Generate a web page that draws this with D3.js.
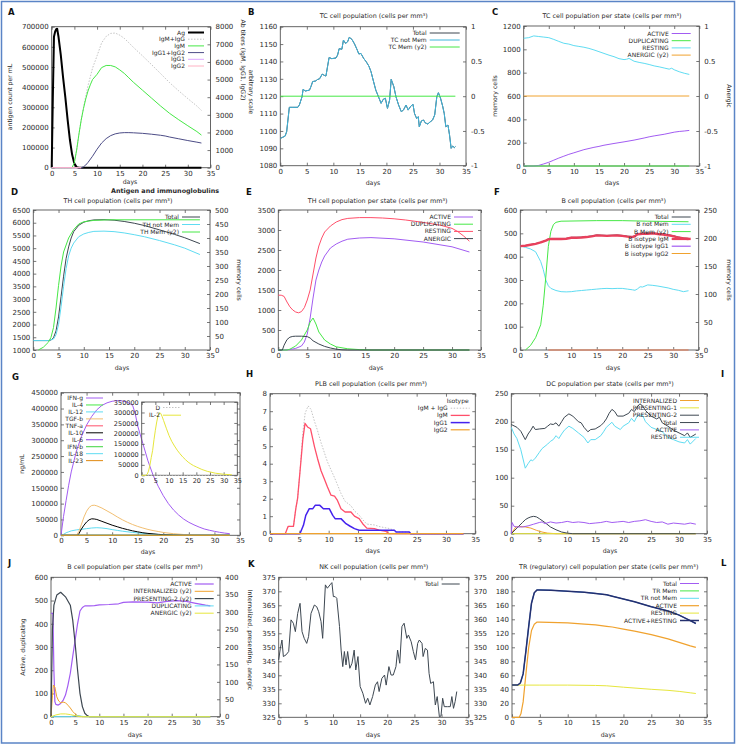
<!DOCTYPE html>
<html><head><meta charset="utf-8">
<script src="https://cdn.jsdelivr.net/npm/d3@7"></script>
<style>body{margin:0;background:#fff} svg{display:block} text{font-family:"DejaVu Sans",sans-serif}</style>
</head><body><svg id="c" width="738" height="747"></svg>
<script>
// ---------------- DATA ----------------
const xTicks = [0,5,10,15,20,25,30,35];
// A: Antigen and immunoglobulins
const A_Ag = [[0,0],[0.25,350000],[0.5,650000],[0.75,675000],[1,688000],[1.2,690000],[1.5,650000],[2,560000],[2.5,450000],[3,350000],[3.5,240000],[4,140000],[4.5,65000],[5,20000],[5.5,3000],[6,0],[33,0]];
const A_IgMIgG = [[0,0],[4.5,0],[5,300],[5.5,1000],[6,1900],[6.5,2700],[7,3400],[7.5,4050],[8,4650],[8.5,5150],[9,5650],[10,6350],[11,7080],[12,7450],[13,7620],[14,7640],[15,7520],[16,7340],[17,7090],[18,6830],[20,6350],[22,5850],[24,5340],[26,4820],[28,4360],[30,3920],[32,3500],[33,3250]];
const A_IgM = [[0,0],[4.5,0],[5,300],[5.5,1000],[6,1900],[6.5,2700],[7,3350],[7.5,3900],[8,4350],[8.5,4700],[9,5000],[10,5300],[11,5680],[12,5800],[13,5800],[14,5720],[15,5550],[16,5350],[17,5100],[18,4850],[20,4400],[22,3950],[24,3500],[26,3080],[28,2720],[30,2380],[32,2050],[33,1850]];
const A_IgG12 = [[0,0],[6.5,0],[7,50],[7.5,150],[8,300],[9,650],[10,1050],[11,1400],[12,1650],[13,1820],[14,1920],[15,1970],[16,1990],[17,1990],[18,1980],[20,1950],[22,1900],[24,1840],[25,1800],[26,1740],[28,1640],[30,1540],[32,1450],[33,1400]];
const A_IgG1 = [[0,0],[6.5,0]];
const A_IgG2 = [[0,0],[6.5,0]];
// B: TC cell population
const B_total = [[0,1095.7],[0.4,1096.3],[0.9,1097],[1.2,1099.6],[1.5,1108],[1.7,1113.6],[2.3,1113.6],[3.3,1113.6],[3.6,1115],[4.1,1119.7],[4.3,1124],[4.7,1123],[5.5,1123.5],[5.8,1125.7],[6.1,1128.4],[6.7,1128.8],[7.0,1129.6],[7.4,1130],[7.9,1132.7],[8.3,1132],[8.6,1131.6],[8.9,1137],[9.2,1142.3],[9.7,1141.6],[10.5,1142],[10.8,1143.7],[11.1,1147.4],[11.6,1147],[11.9,1152.3],[12.3,1150.4],[12.7,1151.4],[13.0,1153.9],[13.5,1152.7],[14.0,1150],[14.5,1146.6],[14.8,1144.3],[15.2,1144.6],[15.7,1141.8],[16.2,1139.8],[16.7,1137.3],[17.1,1134.1],[17.5,1129.3],[18.0,1123.5],[18.5,1119.7],[19.0,1115.9],[19.4,1118.2],[19.8,1118.8],[20.2,1113],[20.6,1117.8],[20.9,1129.7],[21.4,1125.5],[21.8,1119.7],[22.3,1114.9],[22.8,1111.1],[23.2,1112],[23.7,1114.9],[24.1,1112],[24.5,1113.9],[25.0,1115.4],[25.3,1110],[25.7,1107.2],[26.0,1108.2],[26.2,1102.4],[26.6,1105.8],[27.0,1106.3],[27.3,1104.7],[27.8,1104],[28.2,1105.1],[28.7,1106.3],[29.1,1109.2],[29.5,1119.7],[29.8,1122],[30.2,1118.8],[30.6,1114.3],[30.9,1110],[31.2,1102.4],[31.6,1103.4],[31.9,1097.6],[32.2,1090],[32.5,1091.3],[32.8,1090.4],[33,1091]];
const B_notMem = B_total; // identical series (no memory cells)
const B_mem = [[0,0],[33,0]];
// C: TC cell population per state
const C_active = [[0,0],[2,0],[3,5],[4,18],[5,32],[6,50],[7,68],[8,84],[9,100],[10,113],[12,140],[14,160],[15,168],[16,178],[18,193],[20,207],[22,222],[24,240],[25,250],[26,258],[28,272],[30,290],[31,296],[32,300],[33,305]];
const C_dup = [[0,0],[33,0]];
const C_resting = [[0,1095],[1,1100],[2,1115],[3,1110],[4,1105],[5,1100],[6,1085],[7,1068],[8,1052],[9,1045],[10,1032],[11,1025],[12,1018],[13,1008],[14,995],[15,980],[16,965],[17,950],[18,937],[19,920],[20,912],[20.5,915],[21,922],[22,898],[23,888],[24,880],[25,870],[26,858],[27,850],[28,840],[29,830],[29.5,838],[30,825],[31,808],[32,795],[33,785]];
const C_anergic = [[0,0],[33,0]];
// D: TH cell population
const D_total = [[0,1370],[3,1370],[3.5,1390],[4,1480],[4.5,1750],[5,2300],[5.5,3100],[6,3900],[6.5,4600],[7,5050],[7.5,5400],[8,5650],[9,5900],[10,6020],[11,6080],[12,6110],[14,6120],[16,6100],[18,6050],[20,5980],[22,5890],[25,5720],[28,5540],[30,5410],[33,5180]];
const D_notMem = [[0,1370],[3,1370],[4,1430],[4.5,1600],[5,2000],[5.5,2700],[6,3500],[6.5,4200],[7,4700],[7.5,5000],[8,5200],[9,5450],[10,5560],[11,5620],[12,5660],[14,5670],[16,5650],[18,5600],[20,5530],[22,5450],[25,5300],[28,5130],[30,5000],[33,4750]];
const D_mem = [[1,0],[2,10],[3,28],[3.5,45],[4,80],[4.5,150],[5,230],[5.5,300],[6,350],[7,400],[8,430],[9,450],[10,458],[12,463],[15,465],[33,465]];
// E: TH cell population per state
const E_active = [[0,0],[1,0],[2,10],[3,40],[4,100],[4.5,200],[5,400],[5.5,800],[6,1300],[6.5,1750],[7,2000],[7.5,2200],[8,2350],[9,2550],[10,2650],[11,2720],[12,2770],[14,2800],[16,2810],[20,2780],[25,2700],[30,2580],[33,2450]];
const E_dup = [[0,0],[1.5,0],[2,20],[3,100],[4,250],[5,500],[5.5,700],[6,800],[6.5,650],[7,450],[7.5,350],[8,250],[9,150],[10,80],[12,30],[14,10],[16,0],[33,0]];
const E_resting = [[0,1370],[0.5,1370],[1,1340],[1.5,1200],[2,1080],[2.5,1000],[3,950],[3.5,930],[4,960],[4.5,1060],[5,1250],[5.5,1500],[6,1900],[6.5,2300],[7,2600],[7.5,2800],[8,2950],[9,3100],[10,3200],[11,3260],[12,3290],[14,3310],[16,3310],[18,3300],[20,3280],[22,3250],[25,3190],[28,3120],[30,3040],[31,2960],[32,2850],[33,2720]];
const E_anergic = [[0,0],[0.7,0],[1,120],[1.5,260],[2,320],[2.5,340],[3,345],[4,345],[5,335],[5.5,300],[6,230],[7,150],[8,90],[9,50],[10,20],[11,5],[12,0],[33,0]];
// F: B cell population
const F_total = [[0,445],[1,448],[2,452],[3,456],[4,462],[5,470],[5.5,476],[6,478],[7,478],[8,478],[9,478],[10,483],[11,483],[12,484],[13,486],[14,489],[15,493],[16,492],[17,491],[18,492],[19,493],[20,491],[21,488],[22,486],[22.5,490],[23,498],[24,500],[25,500],[26,502],[27,499],[28,497],[29,494],[30,490],[31,484],[32,480],[33,478]];
const F_notMem = [[0,446],[1,440],[2,433],[3,421],[4,379],[4.5,345],[5,300],[5.5,275],[6,264],[7,255],[8,250],[9,249],[10,250],[11,253],[12,255],[13,257],[14,259],[15,261],[16,263],[17,264],[18,263],[19,264],[20,264],[21,261],[22,258],[22.5,256],[23,262],[23.5,271],[24,270],[25,279],[26,277],[27,274],[28,270],[29,266],[30,260],[31,256],[32,250],[33,254]];
const F_mem = [[1,0],[2,8],[3,22],[4,45],[4.5,80],[5,130],[5.5,185],[6,212],[6.5,224],[7,228],[8,230],[15,231],[20,231],[25,230],[33,229]];
const F_IgM = [[0,445],[1,447],[2,451],[3,455],[4,461],[5,469],[5.5,474],[6,476],[7,476],[8,476],[9,477],[10,481],[11,481],[12,482],[13,484],[14,487],[15,491],[16,490],[17,489],[18,490],[19,491],[20,489],[21,486],[22,484],[22.5,488],[23,496],[24,498],[25,498],[26,500],[27,497],[28,495],[29,492],[30,488],[31,482],[32,478],[33,476]];
const F_IgG1 = [[5.5,0],[33,0]];
const F_IgG2 = [[5.5,0],[33,0]];
// G: cytokines
const G_IFNg = [[0,0],[0.5,60000],[1,110000],[1.5,158000],[2,200000],[3,265000],[4,312000],[5,348000],[6,375000],[7,396000],[8,410000],[9,418000],[10,423000],[11,425000],[12,424000],[13,420000],[14,410000],[14.5,385000],[15,345000],[16,290000],[17,235000],[18,190000],[19,155000],[20,125000],[21,100000],[22,80000],[23,64000],[24,51000],[25,41000],[26,33000],[27,26000],[28,20000],[29,16000],[30,12500],[31,9500],[32,7000],[33,5000]];
const G_IL4 = [[0,0],[33,0]];
const G_IL12 = [[0,0],[0.5,3000],[1,8000],[1.5,11000],[2,14000],[3,17000],[4,19000],[5,21000],[6,23000],[7,24000],[8,23000],[9,21000],[10,18000],[11,15500],[12,13000],[14,9000],[16,6000],[18,3500],[20,2000],[22,1000],[25,0],[33,0]];
const G_TGFb = [[0,0],[3,0],[3.5,12000],[4,35000],[4.5,58000],[5,76000],[5.5,88000],[6,94000],[6.5,95000],[7,93000],[8,86000],[9,77000],[10,68000],[11,58000],[12,49000],[13,41000],[14,34000],[15,28000],[16,23000],[17,18500],[18,15000],[19,12000],[20,9000],[22,5000],[24,2500],[26,1000],[28,300],[33,0]];
const G_TNFa = [[0,0],[33,0]];
const G_IL10 = [[0,0],[3.2,0],[3.5,5000],[4,20000],[4.5,32000],[5,42000],[5.5,49000],[6,52000],[6.5,51500],[7,50000],[8,44000],[9,38000],[10,32000],[11,27000],[12,22000],[13,18000],[14,14000],[15,11000],[16,8000],[17,6000],[18,4500],[19,3000],[20,2000],[22,800],[24,0],[33,0]];
const G_IL6 = [[0,0],[33,0]];
const G_IFNb = [[0,0],[33,0]];
const G_IL18 = [[0,0],[33,0]];
const G_IL23 = [[0,0],[33,0]];
const G_D = [[0,0],[33,0]];
const G_IL2 = [[0,0],[1.5,0],[2,5000],[2.5,20000],[3,48000],[3.5,85000],[4,119000],[4.5,170000],[5,215000],[5.5,255000],[6,285000],[6.5,299000],[7,295000],[7.5,280000],[8,262000],[9,225000],[10,190000],[11,162000],[12,140000],[13,120000],[14,103000],[15,88000],[16,75000],[17,63000],[18,54000],[19,46000],[20,40000],[22,28000],[24,19000],[25,16000],[27,10000],[30,5000],[33,2500]];
// H: PLB cell population
const H_sum = [[0,0],[2.6,0],[3.1,0.42],[4.0,0.42],[4.4,1.43],[4.7,2],[5.1,3.5],[5.6,5.8],[6.0,6.9],[6.5,7.3],[7.0,7.1],[7.6,6.4],[8.1,5.9],[8.7,5.2],[9.3,4.6],[9.8,4.1],[10.4,3.65],[11,3.2],[11.5,2.8],[12.1,2.3],[12.8,1.85],[13.8,1.6],[14.4,1.3],[15.2,1.06],[15.8,0.8],[16.5,0.55],[17.8,0.5],[18.6,0.41],[19.8,0.33],[20.3,0.3],[21.2,0.2],[21.5,0.1],[23.75,0.1],[24,0],[33,0]];
const H_IgM = [[0,0],[2.6,0],[3.1,0.42],[4.0,0.42],[4.4,1.43],[4.7,2],[5.1,3.5],[5.6,5.4],[5.97,6.3],[6.4,6.1],[6.9,6.0],[7.6,4.95],[8.1,4.3],[8.7,3.6],[9.3,3.1],[9.8,2.67],[10.4,2.2],[11,2.15],[11.5,1.9],[12.1,1.43],[12.8,1.24],[13.8,1.24],[14.4,1.0],[15.2,0.86],[15.8,0.57],[16.5,0.32],[17.8,0.29],[18.6,0.21],[19.8,0.13],[20.3,0],[33,0]];
const H_IgG1 = [[0,0],[5.1,0],[5.7,0.48],[6.1,1.05],[6.7,1.43],[7.3,1.43],[7.7,1.62],[8.5,1.62],[9.1,1.43],[10.1,1.43],[10.7,1.05],[11.1,0.86],[12.1,0.86],[12.95,0.57],[13.6,0.44],[14.4,0.29],[15.2,0.2],[21.2,0.2],[21.5,0.1],[23.75,0.1],[24,0],[33,0]];
const H_IgG2 = [[0,0],[33,0]];
// I: DC population per state
const I_internal = [[0,0],[0.8,12],[1.5,13],[2.5,12],[3.5,10],[4.5,6],[5.5,3],[6.5,1],[8,0],[33,0]];
const I_pres1 = [[0,0],[33,0]];
const I_pres2 = [[0,0],[1,10],[2,20],[2.5,25],[3,28],[3.5,30],[4,31],[4.5,30],[5,27],[6,20],[7,12],[8,7],[9,3],[10,1],[11,0],[33,0]];
const I_total = [[0,195],[1,190],[1.7,183],[2.5,168],[3,178],[3.5,185],[3.9,192],[4.3,186],[5,187],[6,188],[6.5,192],[7,196],[7.5,195],[8,198],[8.5,192],[9,200],[9.5,208],[10.3,214],[11,210],[12,200],[12.5,198],[13,190],[13.7,182],[14.2,186],[15,187],[16,193],[16.5,198],[17,205],[17.5,215],[18,222],[18.5,218],[19,210],[20,210],[21,215],[21.5,222],[22,218],[22.5,226],[23,232],[23.5,228],[24,220],[24.5,215],[25,210],[26,205],[26.5,208],[27,198],[28,192],[29,185],[30,180],[31,175],[31.5,180],[32,172],[33,178]];
const I_active = [[0,0],[0.15,20],[0.5,13],[1,12],[2,12],[3,14],[4,17],[5,20],[5.5,21],[6,18],[7,21],[8,19],[9,20],[10,22],[11,20],[12,21],[13,20],[14,18],[15,19],[16,20],[17,22],[18,20],[19,21],[20,22],[21,20],[22,22],[23,23],[24,25],[25,22],[26,20],[27,21],[28,17],[29,19],[30,18],[31,17],[32,19],[33,17]];
const I_resting = [[0,190],[0.5,178],[1,170],[1.7,150],[2.5,117],[3,125],[3.5,132],[3.8,130],[4.3,135],[5,145],[5.5,152],[6.5,160],[7,165],[7.5,168],[8,175],[8.5,170],[9,178],[9.5,185],[10.3,192],[11,188],[12,180],[13,172],[13.7,162],[14.2,168],[15,168],[16,175],[16.5,182],[17,190],[18,199],[18.5,192],[19.5,186],[20,192],[21,198],[21.5,206],[22,200],[22.5,210],[23,212],[23.5,211],[24,200],[25,190],[26,186],[27,182],[28,172],[29,168],[30,164],[31,162],[31.5,168],[32,160],[33,170]];
// J: B cell population per state
const J_active = [[0,445],[0.4,445],[0.6,200],[0.8,65],[1,53],[1.5,50],[2,57],[2.5,70],[3,93],[3.5,135],[4,187],[4.5,260],[5,330],[5.5,400],[6,455],[6.5,470],[7,477],[8,477],[9,478],[10,481],[12,483],[14,486],[15,492],[17,494],[20,493],[22,490],[24,496],[26,500],[28,496],[30,488],[32,480],[33,477]];
const J_internal = [[0,0],[0.3,60],[0.5,91],[0.8,85],[1.2,57],[1.6,45],[2,40],[2.5,42],[3,40],[3.5,33],[4,25],[4.5,15],[5,8],[5.5,3],[6.5,0],[33,0]];
const J_pres2 = [[0,0],[0.3,250],[0.6,320],[1.2,349],[2,357],[3,344],[4,320],[4.5,277],[5,210],[5.5,134],[6,67],[6.5,29],[7,10],[7.5,3],[8,0],[33,0]];
const J_dup = [[0,0],[4,0],[5,4],[6,3],[7,0],[33,0]];
const J_anergic = [[0,0],[1,5],[2,8],[3,8],[4,6],[5,3],[6,0],[33,0]];
// K: NK cell population
const K_total = [[0,345.5],[0.3,349.6],[0.6,352.6],[0.86,346.7],[1.35,347.3],[1.84,348.5],[2.27,359.8],[2.7,358.6],[3.07,355.6],[3.5,362.1],[3.93,365.7],[4.3,355.6],[4.7,353.2],[5.16,351.4],[5.5,353.8],[5.95,362.1],[6.57,365.1],[7.0,364.5],[7.37,362.7],[7.8,359.2],[8.1,353.2],[8.6,372.3],[8.96,371.1],[9.45,372.3],[9.8,373.1],[10.07,368.1],[10.4,368.1],[10.7,367.5],[11.2,357.4],[11.5,349],[11.8,343.1],[12.1,348.5],[12.4,343.7],[12.7,348.5],[13.1,342.5],[13.5,344.3],[13.9,349],[14.2,341.9],[14.6,346.7],[15.0,336],[15.5,333.6],[16.0,330],[16.4,331.8],[16.8,329.4],[17.3,332.4],[17.8,336.5],[18.2,337.7],[18.5,334.2],[19.0,338.9],[19.5,340.1],[19.8,336.5],[20.3,343.1],[20.7,340.1],[21.1,340.1],[21.6,343.1],[21.9,349],[22.3,344.3],[22.7,357.4],[23.1,358.6],[23.6,353.2],[23.9,354.4],[24.4,352],[24.8,348.5],[25.2,345.5],[25.6,351.4],[25.9,352.6],[26.4,351.4],[26.6,346.7],[27.0,349.6],[27.4,349],[27.7,340.7],[28.0,337.1],[28.5,337.7],[28.85,329.4],[29.2,332.4],[29.6,325.2],[29.9,325.5],[30.2,331.8],[30.5,328.8],[31.1,328.8],[31.6,328.8],[31.9,332.4],[32.2,328.2],[32.5,330.6],[32.8,334.2]];
// L: TR cell population per state
const L_activeResting = [[0,46],[1,46],[1.5,49],[2,62],[2.5,95],[3,130],[3.5,163],[4,178],[4.5,182],[5,182],[7,181.5],[10,180],[13,178.5],[15,177],[17,175],[18,173],[20,169],[22,165],[25,158],[28,152],[30,146],[32,138],[33,134]];
const L_total = L_activeResting; // identical series
const L_notMem = L_activeResting; // identical series
const L_active = [[0,0],[1.3,0],[1.6,5],[2,22],[2.5,62],[3,100],[3.5,124],[4,133],[4.5,136],[5,136],[10,135],[13,133],[15,132],[17,130],[18,129],[20,126],[22,123],[25,118],[28,112],[30,107],[32,102],[33,100]];
const L_resting = [[0,46],[5,46],[10,46],[15,45.5],[17,45],[20,43],[25,40],[28,38.5],[30,37],[32,35],[33,34]];

// ---------------- DRAWING ----------------
const PURPLE='#a25cf2', GREEN='#46e846', CYAN='#5fdcf2', ORANGE='#f0a22e', YELLOW='#e6e63c',
      DARK='#3d4751', RED='#ff4f6a', BLUE='#4422ee', LGRAY='#c4c4c4', TXT='#2a2a2a', BORDER='#555';
const svg = d3.select('#c');
svg.append('rect').attr('width',738).attr('height',747).attr('fill','#fff');
svg.append('rect').attr('x',1.5).attr('y',1.5).attr('width',733).attr('height',741.5)
   .attr('fill','none').attr('stroke','#5a84c6').attr('stroke-width',1.5);

const rng = (a,b,s) => d3.range(a, b + s/2, s);
const fmt = d => String(Math.round(d*1000)/1000);

function text(t, x, y, o={}) {
  const e = svg.append('text').attr('x',x).attr('y',y).text(t)
    .attr('font-size', o.fs || 6.2).attr('fill', o.fill || TXT)
    .attr('text-anchor', o.anchor || 'middle');
  if (o.bold) e.attr('font-weight','bold');
  if (o.rot) e.attr('transform',`rotate(${o.rot},${x},${y})`);
  return e;
}

function panel(p) {
  const [x0,y0,x1,y1] = p.rect;
  const g = svg.append('g');
  const x = d3.scaleLinear().domain([0,35]).range([x0,x1]);
  const y = d3.scaleLinear().domain(p.yd).range([y1,y0]);
  const y2 = p.y2d ? d3.scaleLinear().domain(p.y2d).range([y1,y0]) : y;
  const fs = p.fs || 7;
  g.append('rect').attr('x',x0).attr('y',y0).attr('width',x1-x0).attr('height',y1-y0)
    .attr('fill','none').attr('stroke',BORDER).attr('stroke-width',0.9);
  const axis = (gen, tr, vals, labels, pad) => {
    const a = g.append('g').attr('transform',tr)
      .call(gen.tickValues(vals).tickSizeInner(-3).tickSizeOuter(0).tickPadding(pad)
        .tickFormat(labels ? fmt : () => ''));
    a.select('.domain').remove();
    a.selectAll('line').attr('stroke',BORDER).attr('stroke-width',0.8);
    a.selectAll('text').attr('font-size',fs).attr('fill',TXT).attr('font-family','"DejaVu Sans",sans-serif');
  };
  axis(d3.axisBottom(x), `translate(0,${y1})`, xTicks, true, 3);
  axis(d3.axisTop(x), `translate(0,${y0})`, xTicks, false, 3);
  axis(d3.axisLeft(y), `translate(${x0},0)`, p.yt, true, 3);
  axis(d3.axisRight(y2), `translate(${x1},0)`, p.y2t || p.yt, !!p.y2d, 5);
  for (const s of p.series) {
    const ys = s.y2 ? y2 : y;
    const line = d3.line().x(d => x(d[0])).y(d => ys(d[1]));
    const path = g.append('path').attr('d', line(s.data)).attr('fill','none')
      .attr('stroke', s.c).attr('stroke-width', s.w || 1).attr('stroke-linejoin','round');
    if (s.dash) path.attr('stroke-dasharray', s.dash);
  }
  if (p.legend) {
    const L = p.legend;
    let i = 0;
    if (L.title) { text(L.title, L.x + 10, L.y, {fs:6, anchor:'middle'}); i = 1; }
    for (const s of p.series) {
      if (s.noLegend) continue;
      const ly = L.y + i * L.dy;
      text(s.name, L.x, ly, {fs:6, anchor:'end'});
      const ln = svg.append('line').attr('x1',L.x+3).attr('x2',L.x+3+L.len).attr('y1',ly-2).attr('y2',ly-2)
        .attr('stroke', s.c).attr('stroke-width', s.w || 1);
      if (s.dash) ln.attr('stroke-dasharray', s.dash);
      i++;
    }
  }
  if (p.title) text(p.title[0], p.title[1], p.title[2], {fs:6.4, bold:p.title[3]});
  if (p.xlabel) text('days', p.xlabel[0], p.xlabel[1], {fs:6.2});
  if (p.letter) text(p.letter[0], p.letter[1], p.letter[2], {fs:8.5, bold:true, anchor:'start', fill:'#111'});
  for (const lb of (p.labels || [])) text(lb[0], lb[1], lb[2], {fs:6.2, rot:lb[3]});
}

panel({ rect:[51.7,26.7,210.5,167.7], yd:[0,700000], yt:rng(0,700000,100000), y2d:[0,8000], y2t:rng(0,8000,1000),
  series:[
    {name:'Ag', data:A_Ag, c:'#000', w:2},
    {name:'IgM+IgG', data:A_IgMIgG, c:LGRAY, y2:true, dash:'1.5,1.5'},
    {name:'IgM', data:A_IgM, c:GREEN, y2:true},
    {name:'IgG1+IgG2', data:A_IgG12, c:'#4c4c86', y2:true},
    {name:'IgG1', data:A_IgG1, c:'#dca6ff', y2:true},
    {name:'IgG2', data:A_IgG2, c:'#ffb2c4', y2:true}],
  legend:{x:185, y:34.5, dy:6.7, len:16},
  title:['Antigen and immunoglobulins',165,192.5,true], xlabel:[130,184], letter:['A',8,15],
  labels:[['antigen count per mL',12,97,-90],['Ab titers (IgM, IgG1, IgG2)',241,60,90],['arbitrary scale',249,92,90]] });

panel({ rect:[280.3,26.7,466,165.7], yd:[1080,1160], yt:rng(1080,1160,10), y2d:[-1,1], y2t:rng(-1,1,0.5),
  series:[
    {name:'Total', data:B_total, c:DARK},
    {name:'TC not Mem', data:B_notMem, c:'#3fb6dc'},
    {name:'TC Mem (y2)', data:B_mem, c:GREEN, y2:true}],
  legend:{x:426.7, y:35, dy:7, len:30},
  title:['TC cell population (cells per mm³)',373.7,18], xlabel:[373,185], letter:['B',248,15] });

panel({ rect:[523.7,26,699.3,166], yd:[0,1200], yt:rng(0,1200,200), y2d:[-1,1], y2t:rng(-1,1,0.5),
  series:[
    {name:'ACTIVE', data:C_active, c:PURPLE},
    {name:'DUPLICATING', data:C_dup, c:GREEN},
    {name:'RESTING', data:C_resting, c:CYAN},
    {name:'ANERGIC (y2)', data:C_anergic, c:ORANGE, y2:true}],
  legend:{x:668.7, y:35.5, dy:7.2, len:19},
  title:['TC cell population per state (cells per mm³)',612,18], xlabel:[612,185], letter:['C',492,15],
  labels:[['memory cells',497,96,-90],['Anergic',727,96,90]] });

panel({ rect:[33.3,210,210,350], yd:[1000,6500], yt:rng(1000,6500,500), y2d:[0,500], y2t:rng(0,500,50),
  series:[
    {name:'Total', data:D_total, c:DARK},
    {name:'TH not Mem', data:D_notMem, c:CYAN},
    {name:'TH Mem (y2)', data:D_mem, c:GREEN, y2:true}],
  legend:{x:179, y:219, dy:7.5, len:18},
  title:['TH cell population (cells per mm³)',118,203], xlabel:[122,370], letter:['D',11,195],
  labels:[['memory cells',237,280,90]] });

panel({ rect:[278.3,210,481,350], yd:[0,3500], yt:rng(0,3500,500),
  series:[
    {name:'ACTIVE', data:E_active, c:PURPLE},
    {name:'DUPLICATING', data:E_dup, c:GREEN},
    {name:'RESTING', data:E_resting, c:RED},
    {name:'ANERGIC', data:E_anergic, c:DARK}],
  legend:{x:451, y:219, dy:7.2, len:19},
  title:['TH cell population per state (cells per mm³)',377.7,203], xlabel:[376,370], letter:['E',246,195] });

panel({ rect:[520.3,210,698.7,350], yd:[0,600], yt:rng(0,600,100), y2d:[0,250], y2t:rng(0,250,50),
  series:[
    {name:'Total', data:F_total, c:DARK},
    {name:'B not Mem', data:F_notMem, c:CYAN},
    {name:'B Mem (y2)', data:F_mem, c:GREEN, y2:true},
    {name:'B isotype IgM', data:F_IgM, c:'#e8405c', w:2.4},
    {name:'B isotype IgG1', data:F_IgG1, c:PURPLE, w:1.2},
    {name:'B isotype IgG2', data:F_IgG2, c:ORANGE}],
  legend:{x:668.7, y:219, dy:7.3, len:19},
  title:['B cell population (cells per mm³)',613.7,203], xlabel:[613,370], letter:['F',494,195],
  labels:[['memory cells',727,280,90]] });

panel({ rect:[61,392.7,240,535.3], yd:[0,450000], yt:rng(0,450000,50000),
  series:[
    {name:'IFN-g', data:G_IFNg, c:PURPLE},
    {name:'IL-4', data:G_IL4, c:GREEN},
    {name:'IL-12', data:G_IL12, c:CYAN},
    {name:'TGF-b', data:G_TGFb, c:'#f2bf72'},
    {name:'TNF-a', data:G_TNFa, c:RED},
    {name:'IL-10', data:G_IL10, c:'#000'},
    {name:'IL-6', data:G_IL6, c:'#8a3ee8'},
    {name:'IFN-b', data:G_IFNb, c:'#3cd43c'},
    {name:'IL-18', data:G_IL18, c:CYAN},
    {name:'IL-23', data:G_IL23, c:'#e08a10'}],
  legend:{x:83, y:400, dy:6.96, len:17},
  xlabel:[148,554], letter:['G',12,380],
  labels:[['ng/mL',24,464,-90]] });

panel({ rect:[141.7,402,237.3,475.3], yd:[0,350000], yt:rng(0,350000,50000), fs:6.5,
  series:[
    {name:'D', data:G_D, c:LGRAY, dash:'1.5,1.5'},
    {name:'IL-2', data:G_IL2, c:YELLOW}],
  legend:{x:160, y:409.5, dy:7.7, len:18} });

panel({ rect:[270,393.7,475.3,533.7], yd:[0,8], yt:rng(0,8,1),
  series:[
    {name:'IgM + IgG', data:H_sum, c:LGRAY, dash:'1.5,1.5'},
    {name:'IgM', data:H_IgM, c:RED, w:1.3},
    {name:'IgG1', data:H_IgG1, c:BLUE, w:1.5},
    {name:'IgG2', data:H_IgG2, c:ORANGE, w:1.2}],
  legend:{x:447.7, y:403, dy:7.2, len:19, title:'Isotype'},
  title:['PLB cell population (cells per mm³)',371,386], xlabel:[372.7,553], letter:['H',246,377] });

panel({ rect:[511.3,393.7,707,533.7], yd:[0,250], yt:rng(0,250,50),
  series:[
    {name:'INTERNALIZED', data:I_internal, c:ORANGE},
    {name:'PRESENTING-1', data:I_pres1, c:YELLOW},
    {name:'PRESENTING-2', data:I_pres2, c:DARK},
    {name:'Total', data:I_total, c:DARK},
    {name:'ACTIVE', data:I_active, c:PURPLE},
    {name:'RESTING', data:I_resting, c:CYAN}],
  legend:{x:677, y:402.5, dy:7.35, len:19},
  title:['DC population per state (cells per mm³)',610,386], xlabel:[610,553], letter:['I',721,377] });

panel({ rect:[51,577.3,220,716.7], yd:[0,600], yt:rng(0,600,100), y2d:[0,400], y2t:rng(0,400,50),
  series:[
    {name:'ACTIVE', data:J_active, c:PURPLE, w:1.2},
    {name:'INTERNALIZED (y2)', data:J_internal, c:ORANGE, y2:true},
    {name:'PRESENTING-2 (y2)', data:J_pres2, c:DARK, y2:true, w:1.2},
    {name:'DUPLICATING', data:J_dup, c:CYAN},
    {name:'ANERGIC (y2)', data:J_anergic, c:YELLOW, y2:true}],
  legend:{x:191.7, y:586, dy:7.3, len:19},
  title:['B cell population  per state (cells per mm³)',135,569], xlabel:[135,737], letter:['J',8,566],
  labels:[['Active, duplicating',25,647,-90],['Internalized, presenting, anergic',248,640,90]] });

panel({ rect:[278.7,577.3,468.7,717.3], yd:[325,375], yt:rng(325,375,5), y2d:[325,375], y2t:rng(325,375,5),
  series:[{name:'Total', data:K_total, c:DARK}],
  legend:{x:438.7, y:586, dy:7, len:18},
  title:['NK cell population (cells per mm³)',373.7,569], xlabel:[373,737], letter:['K',248,567] });

panel({ rect:[512,577.3,707,717.3], yd:[0,200], yt:rng(0,200,20),
  series:[
    {name:'Total', data:L_total, c:PURPLE},
    {name:'TR Mem', data:[], c:GREEN},
    {name:'TR not Mem', data:L_notMem, c:CYAN},
    {name:'ACTIVE', data:L_active, c:ORANGE, w:1.2},
    {name:'RESTING', data:L_resting, c:YELLOW},
    {name:'ACTIVE+RESTING', data:L_activeResting, c:'#24306e', w:1.5}],
  legend:{x:677, y:585.5, dy:7.4, len:19},
  title:['TR (regulatory) cell population per state (cells per mm³)',608.7,569], xlabel:[608,737], letter:['L',721,566] });
</script></body></html>
